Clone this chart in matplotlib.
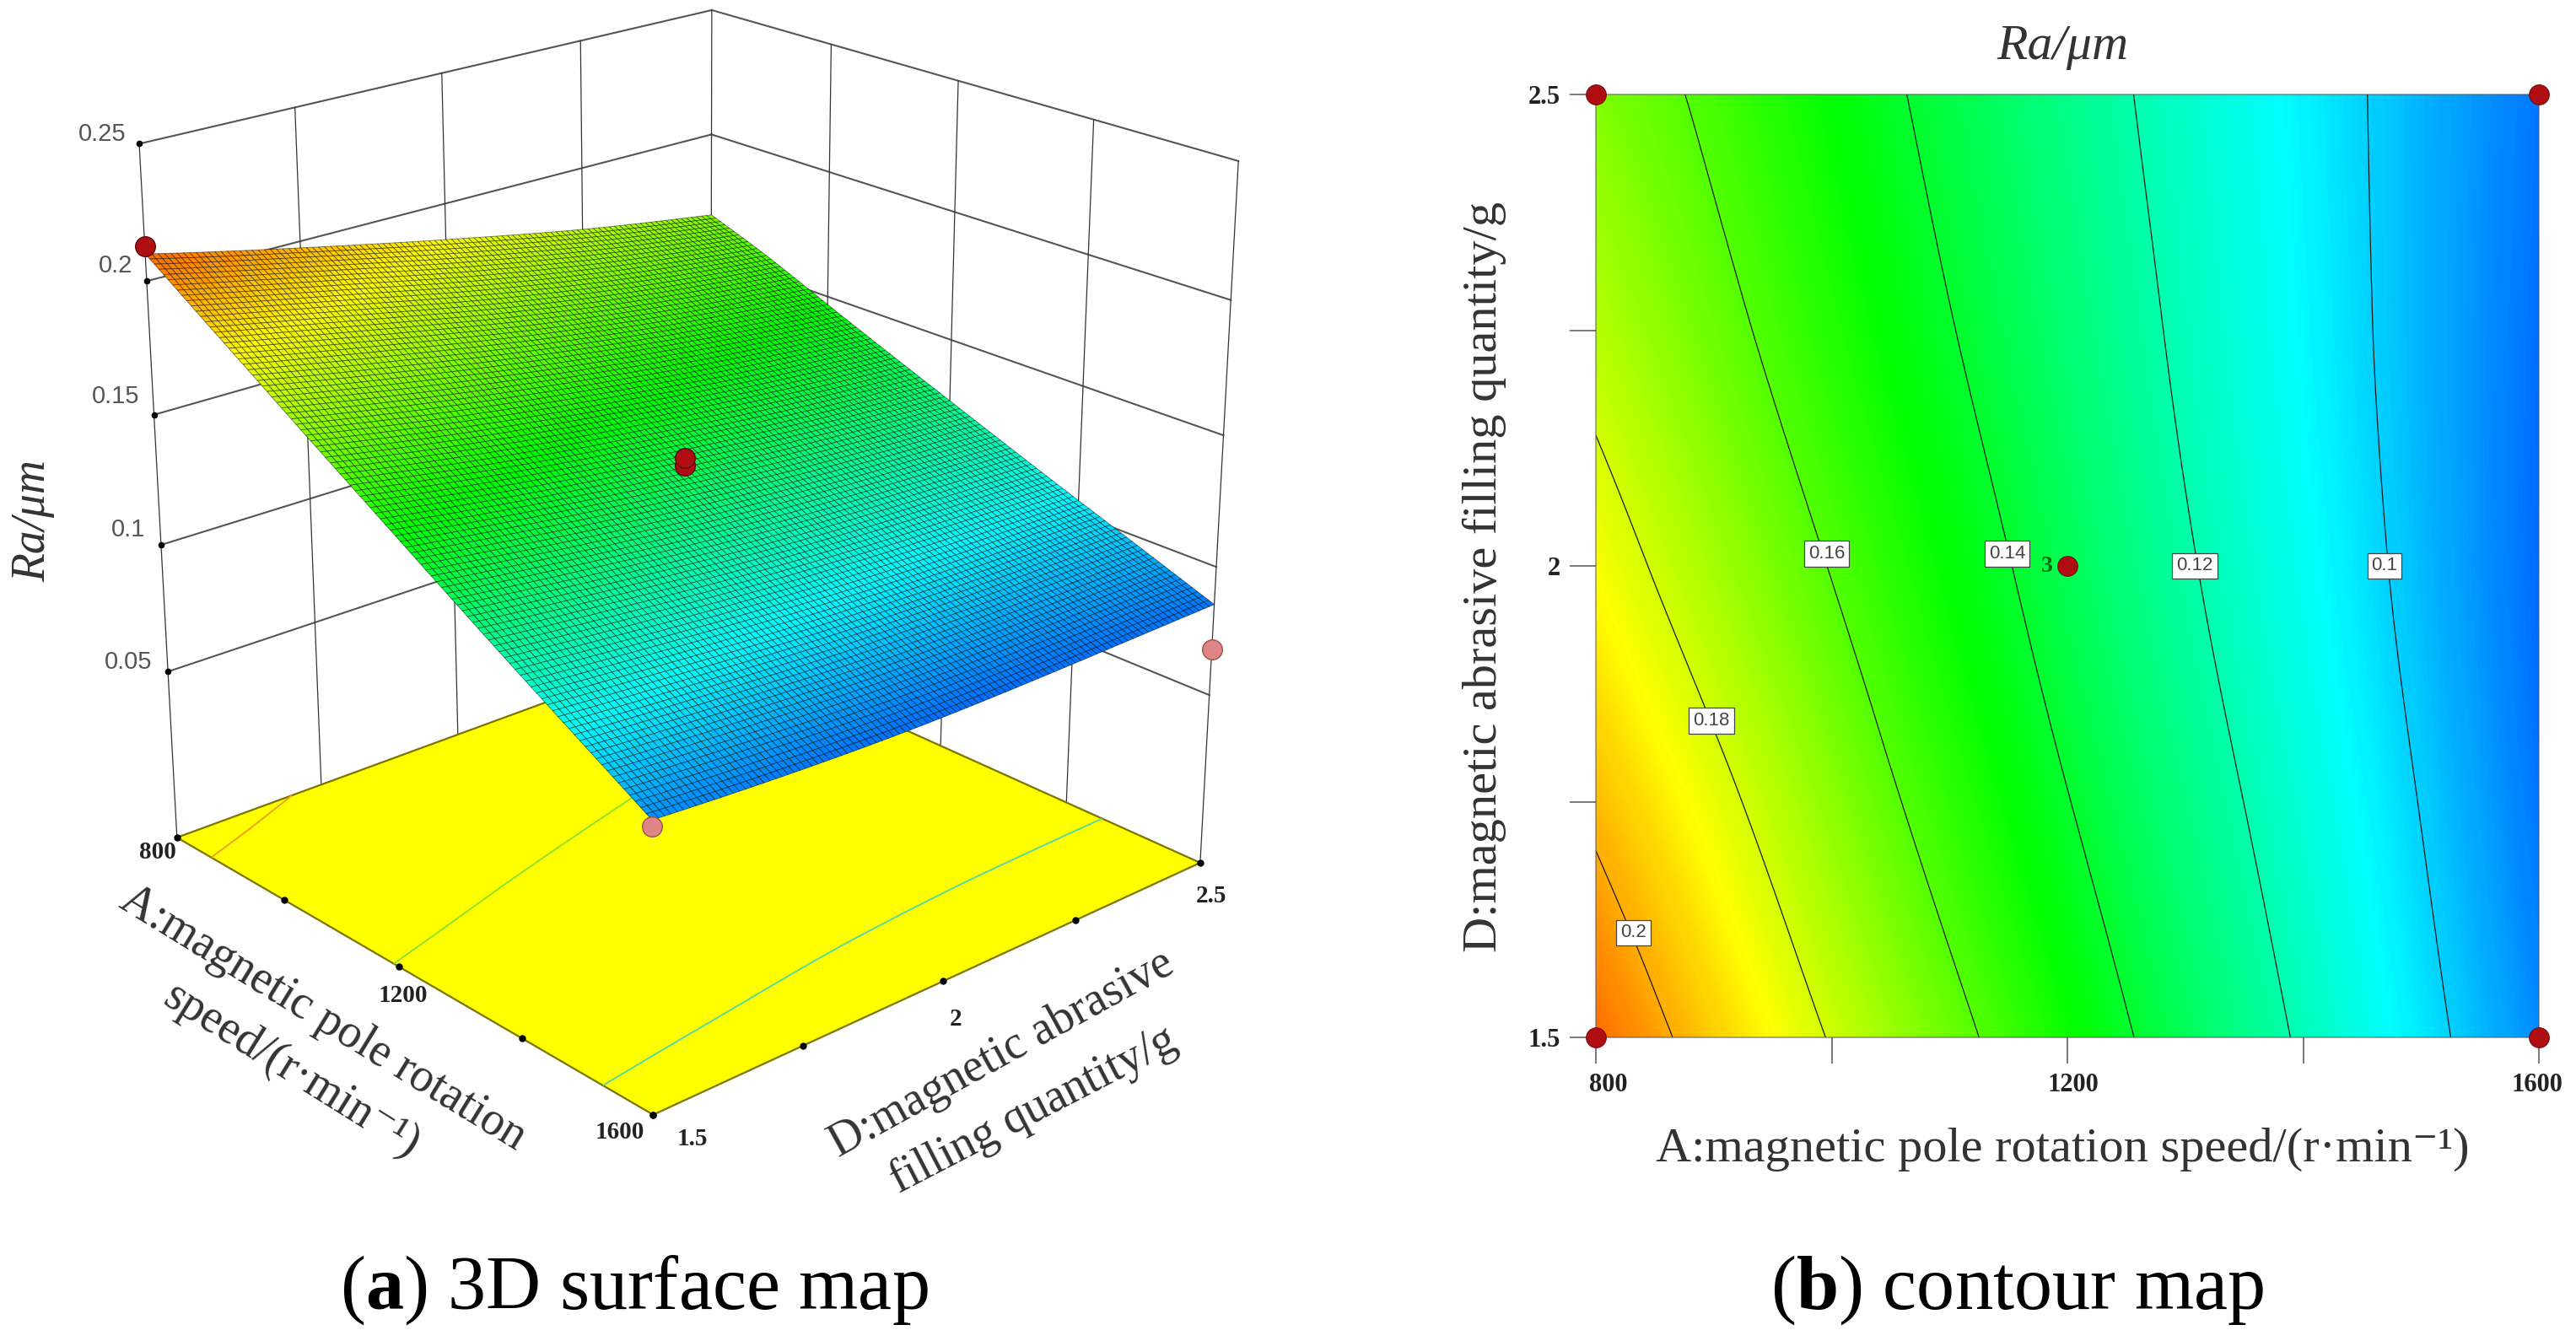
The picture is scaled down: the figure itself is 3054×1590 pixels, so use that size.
import numpy as np
import matplotlib
matplotlib.use('Agg')
import matplotlib.pyplot as plt
import matplotlib.tri as mtri
from matplotlib.colors import LinearSegmentedColormap, Normalize
from matplotlib.transforms import ScaledTranslation

plt.rcParams['font.family'] = ['Liberation Serif', 'DejaVu Serif']
plt.rcParams['mathtext.fontset'] = 'custom'
plt.rcParams['mathtext.rm'] = 'Liberation Serif'
plt.rcParams['mathtext.bf'] = 'Liberation Serif:bold'

# values
speed = [800, 900, 1000, 1100, 1200, 1300, 1400, 1500, 1600]
fill = [1.5, 1.75, 2.0, 2.25, 2.5]
ra_d150 = [.210, .1946, .1792, .1638, .1486, .1334, .1184, .1037, .0890]
ra_d175 = [.1975, .1835, .1687, .1542, .1404, .1267, .1132, .0996, .0855]
ra_d200 = [.1860, .1725, .1595, .1467, .1340, .1213, .1090, .0965, .0840]
ra_d225 = [.1755, .1638, .1522, .1406, .1292, .1179, .1066, .0955, .0845]
ra_d250 = [.1670, .1576, .1468, .1362, .1258, .1155, .1054, .0955, .0855]
ra_table = np.array([ra_d150, ra_d175, ra_d200, ra_d225, ra_d250])

# design points (A, D, Ra)
red_a, red_d, red_z = [800, 1200, 1200], [1.5, 2.0, 2.0], [.2127, .1345, .1375]
pink_a, pink_d, pink_z = [1600, 1600], [1.5, 2.5], [.0866, .068]
corner_a, corner_d = [800, 800, 1600, 1600, 1200], [1.5, 2.5, 1.5, 2.5, 2.0]

z_ticks = [.05, .1, .15, .2, .25]
z_labels = ['0.05', '0.1', '0.15', '0.2', '0.25']
a_ticks = [800, 1000, 1200, 1400, 1600]
d_ticks = [1.5, 1.75, 2.0, 2.25, 2.5]
contour_levels = [.1, .12, .14, .16, .18, .2]
label_texts = ['0.1', '0.12', '0.14', '0.16', '0.18', '0.2']
label_a = [1469, 1308, 1149, 996, 898, 832]
label_d = [2.0, 2.0, 2.013, 2.013, 1.836, 1.611]
floor_z = -0.0175

W, H = 3054, 1590
fig = plt.figure(figsize=(W / 100, H / 100), dpi=100)
cmap = LinearSegmentedColormap.from_list('de', ['#0000FF', '#00FFFF', '#00FF00', '#FFFF00', '#FF0000'])
norm = Normalize(.067, .227)


def put(x, y, s, **kw):
    # position given in pixels of the 3054x1590 picture
    kw.setdefault('ha', 'center')
    kw.setdefault('va', 'center')
    return fig.text(x / W, 1 - y / H, s, **kw)


# render mesh, the library interpolates between the read values
ag, dg = np.meshgrid(speed, fill)
tri = mtri.Triangulation((ag.ravel() - 800) / 800, dg.ravel() - 1.5)
interp = mtri.CubicTriInterpolator(tri, ra_table.ravel())
mesh_a, mesh_d = np.meshgrid(np.linspace(800, 1600, 101), np.linspace(1.5, 2.5, 101))
mesh_z = np.asarray(interp((mesh_a - 800) / 800, mesh_d - 1.5))

# ==================== (a) surface ====================
ax = fig.add_axes([43.3 / W, (H - 1377.95) / H, 1497.3 / W, 1497.3 / H], projection='3d', computed_zorder=False)
ax.set_xlim(800, 1600)
ax.set_ylim(1.5, 2.5)
ax.set_zlim(floor_z, .25)
ax.view_init(22.129, -41.842, 0.0228)
ax.set_proj_type('persp', focal_length=0.5797)
ax.set_box_aspect((1, 1.0002, 1.0025))
ax.set_axis_off()
ax.patch.set_alpha(0)

wall = dict(color='#555555', lw=1.5, zorder=1)
for z in z_ticks:
    ax.plot([800, 800], [1.5, 2.5], [z, z], **wall)
    ax.plot([800, 1600], [2.5, 2.5], [z, z], **wall)
vert = dict(color='#333333', lw=0.9, zorder=1)
for d in d_ticks:
    ax.plot([800, 800], [d, d], [floor_z, .25], **vert)
for a in a_ticks[1:]:
    ax.plot([a, a], [2.5, 2.5], [floor_z, .25], **vert)

# floor with the projected contours
fa, fd = np.meshgrid([800, 1600], [1.5, 2.5])
ax.plot_surface(fa, fd, np.full(fa.shape, floor_z), color='#FFFF00', shade=False, zorder=2,
                edgecolor='none', antialiased=False)
ax.plot([800, 1600, 1600, 800, 800], [1.5, 1.5, 2.5, 2.5, 1.5], [floor_z] * 5, color='#7D7400', lw=1.6, zorder=3)
ax.contour(mesh_a, mesh_d, mesh_z, levels=[.1, .15, .2], zdir='z', offset=floor_z,
           colors=['#5AD8A0', '#90E030', '#F0A020'], linewidths=1.4, zorder=3)

ax.plot_surface(mesh_a, mesh_d, mesh_z, facecolors=cmap(norm(mesh_z)), rstride=1, cstride=1, shade=False,
                edgecolor=(0, 0, 0, .5), linewidth=0.65, zorder=4)

# tick dots
ax.plot([800] * 5, [1.5] * 5, z_ticks, 'o', color='black', ms=4.5, zorder=5)
ax.plot(a_ticks, [1.5] * 5, [floor_z] * 5, 'o', color='black', ms=5, zorder=5)
ax.plot([1600] * 5, d_ticks, [floor_z] * 5, 'o', color='black', ms=5, zorder=5)

# design points
ax.plot(red_a, red_d, red_z, 'o', color='#B00D12', mec='#5A0A0A', mew=1, ms=17, zorder=6)
ax.plot(pink_a, pink_d, pink_z, 'o', color='#E08585', mec='#A05050', mew=1, ms=17, zorder=6)

sans = dict(family=['Liberation Sans'], color='#555555', fontsize=21)
for lab, x, y in zip(z_labels, [152, 152, 137, 137, 121], [785, 628, 470, 315, 159]):
    put(x, y, lab, **sans)
tick3d = dict(fontweight='bold', fontsize=21, color='#222222')
for lab, x, y in zip(['800', '1200', '1600'], [187, 478, 735], [1011, 1180, 1343]):
    put(x, y, lab, **tick3d)
for lab, x, y in zip(['1.5', '2', '2.5'], [821, 1133, 1436], [1350, 1208, 1063]):
    put(x, y, lab, **tick3d)

title3d = dict(fontsize=40, color='#333333', rotation_mode='anchor')
put(383, 1208, 'A:magnetic pole rotation', rotation=-31.5, **title3d)
put(346, 1270, 'speed/(r·min⁻¹)', rotation=-32, **title3d)
put(1188, 1250, 'D:magnetic abrasive', rotation=28.9, **title3d)
put(1225, 1317, 'filling quantity/g', rotation=27.4, **title3d)
put(39, 617, 'Ra/μm', rotation=90, style='italic', fontsize=40, color='#333333')

# ==================== (b) contour ====================
ax2 = fig.add_axes([1892 / W, (H - 1230) / H, 1118 / W, 1118 / H])
ax2.contourf(mesh_a, mesh_d, mesh_z, levels=np.linspace(.08, .215, 240), cmap=cmap, norm=norm, antialiased=False)
ax2.contour(mesh_a, mesh_d, mesh_z, levels=contour_levels, colors='#1A1A1A', linewidths=0.9)
for a, d, s in zip(label_a, label_d, label_texts):
    ax2.text(a, d, s, family=['Liberation Sans'], fontsize=16, color='#444444', ha='center', va='center',
             bbox=dict(boxstyle='square,pad=0.22', fc='white', ec='#444444', lw=0.9))
ax2.plot(corner_a, corner_d, 'o', color='#B00D12', mec='#7A0A0A', mew=0.8, ms=17, clip_on=False, zorder=6)
ax2.text(1183, 2.0, '3', fontsize=20, color='#0A6A10', ha='center', va='center', fontweight='bold')

ax2.set_xlim(800, 1600)
ax2.set_ylim(1.5, 2.5)
for sp in ax2.spines.values():
    sp.set_color('#555555')
    sp.set_alpha(.6)
    sp.set_linewidth(1.2)
ax2.set_xticks(a_ticks, ['800', '', '1200', '', '1600'])
ax2.set_yticks(d_ticks, ['1.5', '', '2', '', '2.5'])
ax2.tick_params(length=22, width=1.1, color='#555555', labelsize=22, pad=8, labelcolor='#222222')
for lab in ax2.get_xticklabels() + ax2.get_yticklabels():
    lab.set_fontweight('bold')
for lab, dx in zip(ax2.get_xticklabels(), [15, 0, 7, 0, -2]):
    lab.set_transform(lab.get_transform() + ScaledTranslation(dx / 100, 0, fig.dpi_scale_trans))

put(2445, 1363, 'A:magnetic pole rotation speed/(r·min⁻¹)', fontsize=42, color='#333333')
put(1760, 684, 'D:magnetic abrasive filling quantity/g', rotation=90, fontsize=42, color='#333333')
put(2445, 56, 'Ra/μm', style='italic', fontsize=43, color='#333333')

# captions
put(752, 1530, r'($\mathbf{a}$) 3D surface map', fontsize=65, color='black')
put(2391, 1530, r'($\mathbf{b}$) contour map', fontsize=65, color='black')

fig.savefig('out.png', dpi=100)
